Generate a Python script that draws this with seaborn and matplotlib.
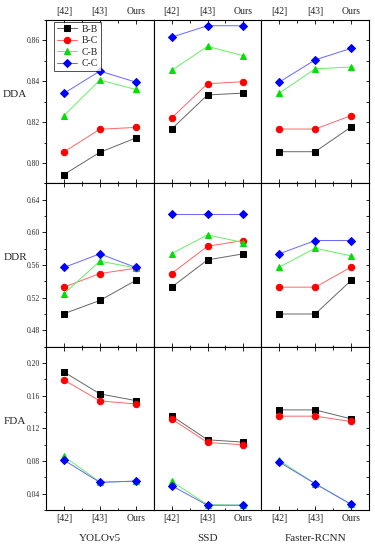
import matplotlib
matplotlib.use("Agg")
import matplotlib.pyplot as plt
from matplotlib.ticker import MultipleLocator, FormatStrFormatter
import seaborn as sns
import pandas as pd

sns.set_theme(style="white")
plt.rcParams['font.family'] = ['Liberation Serif', 'DejaVu Serif']

methods = ["[42]", "[43]", "Ours"]
detectors = ["YOLOv5", "SSD", "Faster-RCNN"]
metrics = ["DDA", "DDR", "FDA"]
series = ["B-B", "B-C", "C-B", "C-C"]

# values per series: one list per detector (YOLOv5, SSD, Faster-RCNN)
DDA_BB = [[0.7943, 0.8052, 0.8122], [0.8166, 0.8333, 0.8342], [0.8055, 0.8055, 0.8176]]
DDA_BC = [[0.8054, 0.8165, 0.8174], [0.8220, 0.8388, 0.8398], [0.8166, 0.8166, 0.8232]]
DDA_CB = [[0.8232, 0.8406, 0.8360], [0.8453, 0.8571, 0.8525], [0.8342, 0.8461, 0.8470]]
DDA_CC = [[0.8341, 0.8450, 0.8396], [0.8616, 0.8672, 0.8672], [0.8396, 0.8505, 0.8561]]

DDR_BB = [[0.5004, 0.5166, 0.5411], [0.5329, 0.5663, 0.5737], [0.5000, 0.5000, 0.5411]]
DDR_BC = [[0.5329, 0.5496, 0.5560], [0.5496, 0.5830, 0.5900], [0.5329, 0.5329, 0.5574]]
DDR_CB = [[0.5248, 0.5647, 0.5565], [0.5740, 0.5969, 0.5875], [0.5574, 0.5806, 0.5712]]
DDR_CC = [[0.5570, 0.5737, 0.5570], [0.6225, 0.6225, 0.6225], [0.5737, 0.5900, 0.5900]]

FDA_BB = [[0.1890, 0.1622, 0.1540], [0.1353, 0.1060, 0.1031], [0.1426, 0.1426, 0.1316]]
FDA_BC = [[0.1793, 0.1536, 0.1499], [0.1316, 0.1027, 0.0999], [0.1349, 0.1349, 0.1284]]
FDA_CB = [[0.0856, 0.0543, 0.0551], [0.0551, 0.0265, 0.0260], [0.0807, 0.0522, 0.0270]]
FDA_CC = [[0.0811, 0.0538, 0.0555], [0.0498, 0.0258, 0.0258], [0.0787, 0.0522, 0.0270]]

data = {
    "DDA": [DDA_BB, DDA_BC, DDA_CB, DDA_CC],
    "DDR": [DDR_BB, DDR_BC, DDR_CB, DDR_CC],
    "FDA": [FDA_BB, FDA_BC, FDA_CB, FDA_CC],
}
ylims = {"DDA": (0.79, 0.87), "DDR": (0.46, 0.66), "FDA": (0.02, 0.22)}
ymajor = {"DDA": 0.02, "DDR": 0.04, "FDA": 0.04}

colors = ["#000000", "#ff0000", "#00e000", "#0000ff"]
line_colors = ["#666666", "#ff6666", "#66ee66", "#6666ff"]
markers = ["s", "o", "^", "D"]
msizes = [4.0, 4.6, 4.8, 4.0]

fig, axes = plt.subplots(3, 3, figsize=(3.75, 5.5), dpi=100)
fig.subplots_adjust(left=0.1227, right=0.984, top=0.9636, bottom=0.0727,
                    wspace=0, hspace=0)

for r, met in enumerate(metrics):
    for c, det in enumerate(detectors):
        ax = axes[r, c]
        for s, name in enumerate(series):
            vals = data[met][s][c]
            df = pd.DataFrame({"x": list(range(len(methods))), "y": vals})
            sns.lineplot(data=df, x="x", y="y", ax=ax, color=line_colors[s],
                         marker=markers[s], markersize=msizes[s],
                         markerfacecolor=colors[s], markeredgecolor=colors[s],
                         linewidth=0.7,
                         label=name if (r == 0 and c == 0) else None,
                         legend=(r == 0 and c == 0))
        ax.set_xlim(-0.5, 2.5)
        ax.set_ylim(*ylims[met])
        ax.set_xlabel("")
        ax.set_ylabel("")
        ax.set_xticks(range(len(methods)))
        ax.set_xticklabels(methods)
        ax.xaxis.set_minor_locator(MultipleLocator(0.5))
        ax.yaxis.set_major_locator(MultipleLocator(ymajor[met]))
        ax.yaxis.set_minor_locator(MultipleLocator(ymajor[met] / 2))
        ax.yaxis.set_major_formatter(FormatStrFormatter("%.2f"))
        for sp in ax.spines.values():
            sp.set_color("black")
            sp.set_linewidth(0.8)
        ax.tick_params(axis="x", which="both", direction="in", top=True, bottom=True,
                       labeltop=(r == 0), labelbottom=(r == 2), labelsize=7,
                       color="black", width=0.6, pad=3)
        ax.tick_params(axis="x", which="major", length=3)
        ax.tick_params(axis="x", which="minor", length=1.8)
        if c == 0:
            ax.tick_params(axis="y", which="both", direction="out", left=True,
                           right=False, labelleft=True, labelsize=5.5,
                           color="black", width=0.6, pad=1.5)
            ax.tick_params(axis="y", which="major", length=3)
            ax.tick_params(axis="y", which="minor", length=1.5)
        elif c == 2:
            ax.tick_params(axis="y", which="both", direction="in", left=False,
                           right=True, labelleft=False, labelright=False,
                           color="black", width=0.6, length=2.5)
        else:
            ax.tick_params(axis="y", which="both", left=False, right=False,
                           labelleft=False, labelright=False)
        if r == 2:
            ax.set_xlabel(det, fontsize=8, labelpad=8)
    # row label placed in figure coordinates
    bb = axes[r, 0].get_position()
    fig.text(15 / 375, (bb.y0 + bb.y1) / 2 + 0.013, met, fontsize=8,
             ha="center", va="center")

leg = axes[0, 0].legend(loc="upper left", bbox_to_anchor=(0.06, 1.0), fontsize=7,
                        frameon=True, fancybox=False, edgecolor="black",
                        handlelength=2.0, handletextpad=0.5, borderpad=0.3,
                        labelspacing=0.25, borderaxespad=0.2)
leg.get_frame().set_linewidth(0.6)

fig.savefig("out.png", dpi=100)
